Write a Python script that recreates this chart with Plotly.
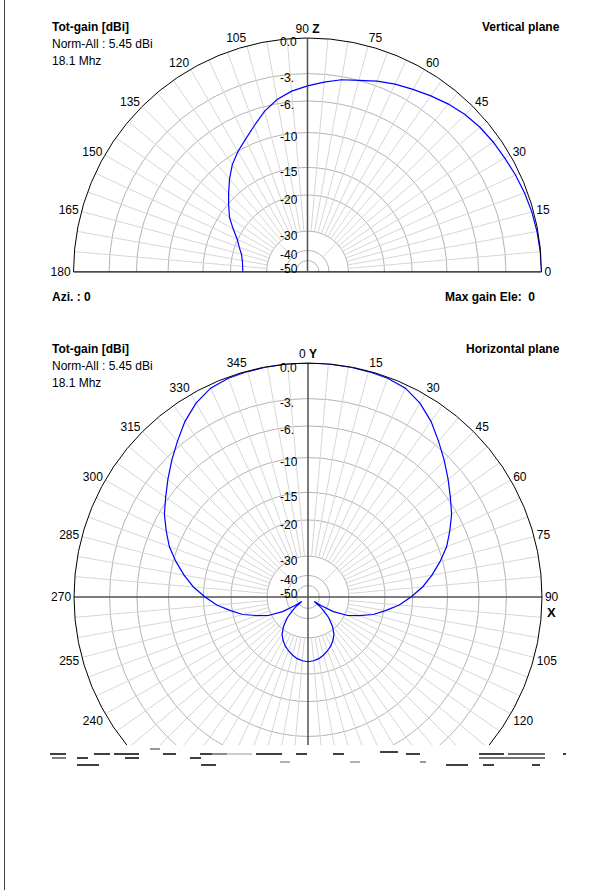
import plotly.graph_objects as go
import numpy as np

W, H = 602, 890

# ---------------- data ----------------
RING_DB = [0, -3, -6, -10, -15, -20, -30, -40, -50]
RING_TEXT = ["0.0", "-3.", "-6.", "-10", "-15", "-20", "-30", "-40", "-50"]

# vertical plane: elevation angle (deg) -> total gain (dB, normalised)
V_THETA = list(range(0, 181, 5))
V_GAIN = [0, -0.03, -0.08, -0.15, -0.25, -0.38, -0.52, -0.62, -0.75, -0.95,
          -1.25, -1.6, -1.95, -2.25, -2.6, -3.0, -3.35, -3.85, -4.35, -4.85,
          -5.55, -6.6, -7.95, -9.1, -10.05, -11.2, -12.6, -14.0, -15.3, -16.7,
          -18.4, -19.9, -21.2, -22.4, -23.0, -23.3, -23.4]

# horizontal plane: azimuth (deg) -> total gain (dB, normalised)
H_THETA = [0, 5, 10, 15, 20, 25, 30, 35, 40, 45, 50, 55, 60, 65, 70, 75, 80, 85,
           90, 95, 100, 105, 110, 115, 120, 123, 126, 129, 132, 135, 140, 145,
           150, 155, 160, 165, 170, 175, 180, 185, 190, 195, 200, 205, 210, 215,
           220, 225, 228, 231, 234, 237, 240, 245, 250, 255, 260, 265, 270, 275,
           280, 285, 290, 295, 300, 305, 310, 315, 320, 325, 330, 335, 340, 345,
           350, 355, 360]
H_GAIN = [0, 0, -0.02, -0.05, -0.1, -0.3, -0.85, -1.65, -2.6, -3.62, -4.7, -5.7,
          -6.66, -7.85, -8.97, -10.4, -11.95, -13.5, -15.3, -17.35, -19.7, -22.6,
          -26.3, -29.2, -36.0, -46.0, -55.0, -45.0, -39.5, -36.0, -31.5, -28.8,
          -27.5, -26.4, -25.5, -24.7, -24.0, -23.6, -23.4, -23.6, -24.0, -24.7,
          -25.5, -26.4, -27.5, -28.8, -31.5, -36.0, -39.5, -45.0, -55.0, -46.0,
          -36.0, -29.2, -26.3, -22.6, -19.7, -17.35, -15.3, -13.5, -11.95, -10.4,
          -8.97, -7.85, -6.66, -5.7, -4.7, -3.62, -2.6, -1.65, -0.85, -0.3, -0.1,
          -0.05, -0.02, 0, 0]

# ---------------- radial scale (dB -> fraction of outer radius) ----------------
SCALE_DB = [-60, -50, -40, -30, -20, -15, -10, -6, -3, 0]
SCALE_R = [0.017, 0.049, 0.092, 0.175, 0.329, 0.447, 0.596, 0.731, 0.848, 1.0]


def rad(db):
    return np.interp(np.asarray(db, dtype=float), SCALE_DB, SCALE_R)


RING_R = rad(RING_DB)

FONT = "Liberation Sans, Arial, sans-serif"
BLUE = "#0000ff"
RING_COL = "#b4b4b4"
SPOKE_COL = "#d6d6d6"
AXIS_COL = "#505050"

# geometry of the two polar plots (pixels)
VC = (307.5, 272.0)
HC = (308.0, 597.0)
RPX = 234.0


def spokes(angles, skip, start_db_of):
    th, rr = [], []
    for a in angles:
        if a % 360 in skip:
            continue
        s = float(rad(start_db_of(a)))
        th += [a, a, None]
        rr += [s, 1.0, None]
    return th, rr


def start_db(a):
    if a % 45 == 0:
        return -40
    return -30


fig = go.Figure()

# spokes
vt, vr = spokes(range(0, 181, 5), {0, 90, 180}, start_db)
fig.add_trace(go.Scatterpolar(r=vr, theta=vt, mode="lines", subplot="polar",
                              line=dict(color=SPOKE_COL, width=1), hoverinfo="skip"))
ht, hr = spokes(range(0, 360, 5), {0, 90, 180, 270}, start_db)
fig.add_trace(go.Scatterpolar(r=hr, theta=ht, mode="lines", subplot="polar2",
                              line=dict(color=SPOKE_COL, width=1), hoverinfo="skip"))

# axes lines
fig.add_trace(go.Scatterpolar(r=[1, 0, 1], theta=[0, 0, 180], mode="lines", subplot="polar",
                              line=dict(color="#303030", width=1), hoverinfo="skip"))
fig.add_trace(go.Scatterpolar(r=[1, 0, 1, None, 1, 0, 1], theta=[0, 0, 180, None, 90, 90, 270],
                              mode="lines", subplot="polar2",
                              line=dict(color=AXIS_COL, width=1.5), hoverinfo="skip"))

# patterns
fig.add_trace(go.Scatterpolar(r=rad(V_GAIN), theta=V_THETA, mode="lines", subplot="polar",
                              line=dict(color=BLUE, width=1.2)))
fig.add_trace(go.Scatterpolar(r=rad(H_GAIN), theta=H_THETA, mode="lines", subplot="polar2",
                              line=dict(color=BLUE, width=1.2)))

v_ticks = list(range(0, 181, 15))
v_text = [("90 <b>Z</b>" if t == 90 else str(t)) for t in v_ticks]
h_ticks = list(range(0, 360, 15))
h_text = [("0 <b>Y</b>" if t == 0 else str(t)) for t in h_ticks]

common_ang = dict(showgrid=False, showline=True, linecolor="black", linewidth=1,
                  ticks="", tickfont=dict(family=FONT, size=12, color="black"),
                  tickmode="array")
common_rad = dict(range=[0, 1], tickmode="array", tickvals=list(RING_R),
                  showgrid=True, gridcolor=RING_COL, gridwidth=1,
                  showticklabels=False, ticks="", angle=90)

fig.update_layout(
    width=W, height=H, autosize=False,
    margin=dict(l=0, r=0, t=0, b=0),
    paper_bgcolor="white", showlegend=False,
    polar=dict(
        domain=dict(x=[(VC[0] - RPX) / W, (VC[0] + RPX) / W],
                    y=[1 - VC[1] / H, 1 - (VC[1] - RPX) / H]),
        sector=[0, 180], bgcolor="white",
        angularaxis=dict(rotation=0, direction="counterclockwise",
                         tickvals=v_ticks, ticktext=v_text, **common_ang),
        radialaxis=dict(showline=True, linecolor=AXIS_COL, linewidth=1.5, **common_rad),
    ),
    polar2=dict(
        domain=dict(x=[(HC[0] - RPX) / W, (HC[0] + RPX) / W],
                    y=[1 - (HC[1] + RPX) / H, 1 - (HC[1] - RPX) / H]),
        bgcolor="white",
        angularaxis=dict(rotation=90, direction="clockwise",
                         tickvals=h_ticks, ticktext=h_text, **common_ang),
        radialaxis=dict(showline=False, **common_rad),
    ),
)

ann = []


def txt(s, x, y, xa="left", ya="middle", size=12, bold=False, height=None):
    a = dict(text=("<b>%s</b>" % s) if bold else s, x=x / W, y=1 - y / H,
             xref="paper", yref="paper", xanchor=xa, yanchor=ya,
             showarrow=False, font=dict(family=FONT, size=size, color="black"))
    if height:
        a["height"] = height
    ann.append(a)


# header texts
for y0, plane in ((27, "Vertical plane"), (349, "Horizontal plane")):
    txt("Tot-gain [dBi]", 50, y0, bold=True)
    txt("Norm-All : 5.45 dBi", 50, y0 + 17)
    txt("18.1 Mhz", 50, y0 + 34)
    txt(plane, 562, y0, xa="right", bold=True)
txt("Azi. : 0", 50, 297, bold=True)
txt("Max gain Ele:\u00a0 0", 537, 297, xa="right", bold=True)
txt("X", 551, 612, xa="center", bold=True, size=13)

# ring labels along the 90 deg axis (the innermost ones are pushed apart)
for c in (VC, HC):
    prev = -1e9
    for lab, r in zip(RING_TEXT, RING_R):
        yc = max(c[1] - r * RPX + 4.5, prev + 14)
        prev = yc
        txt(lab, c[0] - 30, yc, xa="left", ya="middle", size=12, height=12)

fig.update_layout(annotations=ann)

shapes = [
    dict(type="rect", xref="paper", yref="paper", x0=0, x1=1, y0=0, y1=1 - 745 / H,
         fillcolor="white", line=dict(width=0), layer="above"),
    dict(type="line", xref="paper", yref="paper", x0=4.5 / W, x1=4.5 / W, y0=0, y1=1,
         line=dict(color="#404040", width=1), layer="above"),
]
# scanned noise strip under the cut-off horizontal plot
noise = [(50, 66, 754, "black"), (94, 110, 754, "black"), (114, 139, 754, "black"),
         (163, 176, 754, "black"), (200, 212, 754, "black"), (212, 227, 754, "#666"),
         (227, 252, 754, "#bbb"), (256, 282, 754, "black"), (296, 307, 754, "black"),
         (333, 344, 754, "black"), (380, 398, 752, "black"), (406, 420, 754, "black"),
         (479, 504, 754, "black"), (508, 545, 754, "#333"), (563, 566, 754, "black"),
         (52, 66, 758, "#555"), (77, 88, 758, "black"), (125, 139, 758, "black"),
         (190, 201, 758, "black"), (479, 545, 758, "#444"), (77, 99, 765, "black"),
         (201, 216, 765, "black"), (446, 468, 765, "black"), (483, 494, 765, "black"),
         (532, 540, 765, "black"), (150, 160, 749, "#777"), (280, 290, 762, "#999"),
         (350, 360, 762, "#999"), (420, 426, 762, "#777")]
for x0, x1, y, col in noise:
    shapes.append(dict(type="line", xref="paper", yref="paper", x0=x0 / W, x1=x1 / W,
                       y0=1 - y / H, y1=1 - y / H, line=dict(color=col, width=1.5),
                       layer="above"))
fig.update_layout(shapes=shapes)

fig.write_html("out.html",
               config={"displayModeBar": False, "staticPlot": True},
               post_script="document.body.style.margin='0px';"
                           "document.body.style.overflow='hidden';")
